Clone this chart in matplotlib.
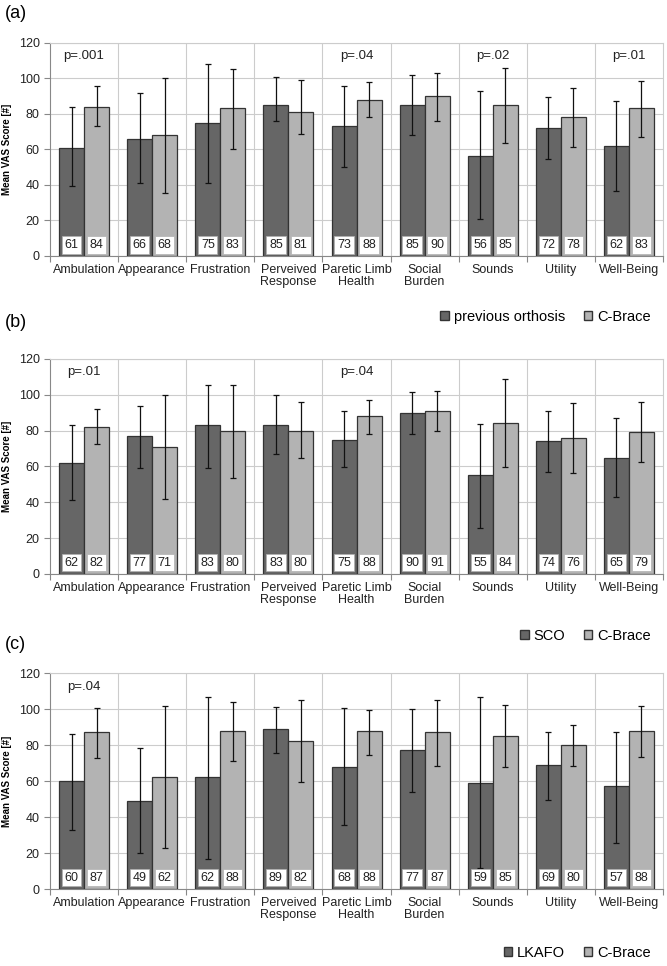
import numpy as np
import matplotlib.pyplot as plt
from matplotlib.patches import Patch

plt.rcParams['font.family'] = ['Liberation Sans', 'DejaVu Sans']

categories = ['Ambulation', 'Appearance', 'Frustration', 'Perveived\nResponse',
              'Paretic Limb\nHealth', 'Social\nBurden', 'Sounds', 'Utility', 'Well-Being']

# panel (a): previous orthosis vs C-Brace
a_prev = [61, 66, 75, 85, 73, 85, 56, 72, 62]
a_cb = [84, 68, 83, 81, 88, 90, 85, 78, 83]
a_prev_lo = [39.4, 40.9, 41.3, 76.1, 49.9, 67.9, 20.6, 54.8, 36.8]
a_prev_hi = [83.6, 91.5, 108.0, 100.5, 95.6, 102.0, 92.6, 89.6, 87.2]
a_cb_lo = [73.1, 35.6, 60.4, 68.6, 78.0, 76.1, 63.4, 61.5, 66.9]
a_cb_hi = [95.6, 100.0, 105.0, 99.0, 98.1, 103.1, 105.9, 94.5, 98.6]
a_p = ['p=.001', '', '', '', 'p=.04', '', 'p=.02', '', 'p=.01']

# panel (b): SCO vs C-Brace
b_prev = [62, 77, 83, 83, 75, 90, 55, 74, 65]
b_cb = [82, 71, 80, 80, 88, 91, 84, 76, 79]
b_prev_lo = [41.4, 59.4, 59.4, 66.9, 59.6, 78.1, 25.5, 57.0, 43.0]
b_prev_hi = [83.1, 93.5, 105.5, 99.9, 90.9, 101.4, 83.8, 90.9, 86.8]
b_cb_lo = [72.3, 41.9, 53.7, 64.5, 78.4, 79.9, 59.6, 56.5, 62.4]
b_cb_hi = [92.0, 99.9, 105.5, 95.8, 96.9, 101.9, 108.8, 95.4, 95.8]
b_p = ['p=.01', '', '', '', 'p=.04', '', '', '', '']

# panel (c): LKAFO vs C-Brace
c_prev = [60, 49, 62, 89, 68, 77, 59, 69, 57]
c_cb = [87, 62, 88, 82, 88, 87, 85, 80, 88]
c_prev_lo = [33.0, 20.0, 16.5, 75.6, 35.4, 53.7, 11.5, 49.6, 25.6]
c_prev_hi = [85.9, 78.1, 106.9, 100.9, 100.4, 100.0, 106.9, 87.4, 87.4]
c_cb_lo = [72.6, 23.0, 71.1, 59.3, 74.6, 68.5, 67.6, 68.5, 73.1]
c_cb_hi = [100.4, 101.5, 103.9, 104.8, 99.3, 104.8, 102.2, 91.3, 101.7]
c_p = ['p=.04', '', '', '', '', '', '', '', '']

panels = [
    ('(a)', 'previous orthosis', a_prev, a_cb, a_prev_lo, a_prev_hi, a_cb_lo, a_cb_hi, a_p),
    ('(b)', 'SCO', b_prev, b_cb, b_prev_lo, b_prev_hi, b_cb_lo, b_cb_hi, b_p),
    ('(c)', 'LKAFO', c_prev, c_cb, c_prev_lo, c_prev_hi, c_cb_lo, c_cb_hi, c_p),
]

dark = '#666666'
light = '#b3b3b3'
edge = '#333333'
grid = '#cccccc'

fig = plt.figure(figsize=(6.67, 9.66), dpi=100)
# axes boxes (left, bottom, width, height) in figure fraction
boxes = [(0.075, 0.735, 0.919, 0.2208),
         (0.075, 0.4058, 0.919, 0.2226),
         (0.075, 0.0797, 0.919, 0.2236)]
legend_y = [0.672, 0.342, 0.0135]
label_y = [0.995, 0.675, 0.342]

w = 0.367
x = np.arange(len(categories)) + 0.5

for k, (tag, name, prev, cb, plo, phi, clo, chi, pv) in enumerate(panels):
    ax = fig.add_axes(boxes[k])
    prev = np.array(prev, dtype=float)
    cb = np.array(cb, dtype=float)
    ax.bar(x - w / 2, prev, w, color=dark, edgecolor=edge, linewidth=0.9, zorder=3)
    ax.bar(x + w / 2, cb, w, color=light, edgecolor=edge, linewidth=0.9, zorder=3)
    ax.errorbar(x - w / 2, prev, yerr=[prev - np.array(plo), np.array(phi) - prev],
                fmt='none', ecolor='#111111', elinewidth=0.9, capsize=2.5, capthick=0.9, zorder=4)
    ax.errorbar(x + w / 2, cb, yerr=[cb - np.array(clo), np.array(chi) - cb],
                fmt='none', ecolor='#111111', elinewidth=0.9, capsize=2.5, capthick=0.9, zorder=4)

    for i in range(len(categories)):
        for xx, v in ((x[i] - w / 2, prev[i]), (x[i] + w / 2, cb[i])):
            ax.text(xx, 6.3, '%d' % v, ha='center', va='center', fontsize=9, color='#222222', zorder=5,
                    bbox=dict(boxstyle='square,pad=0.22', fc='white', ec='#b0b0b0', lw=0.5))
        if pv[i]:
            ax.text(x[i], 112.5, pv[i], ha='center', va='center', fontsize=9.5, color='#222222')

    ax.set_xlim(0, len(categories))
    ax.set_ylim(0, 120)
    ax.set_yticks(np.arange(0, 121, 20))
    ax.yaxis.grid(True, color=grid, linewidth=0.8, zorder=0)
    for b in range(1, len(categories)):
        ax.axvline(b, color=grid, linewidth=0.8, zorder=0)
    ax.set_xticks(np.arange(0, len(categories) + 1))
    ax.set_xticklabels([])
    ax.set_xticks(x, minor=True)
    ax.set_xticklabels(categories, minor=True, fontsize=9, color='#222222', linespacing=1.0)
    ax.tick_params(axis='x', which='major', length=4, color='#888888', direction='out')
    ax.tick_params(axis='x', which='minor', length=0, pad=6)
    ax.tick_params(axis='y', length=4, color='#888888', labelsize=9, labelcolor='#222222')
    for s in ('top', 'right'):
        ax.spines[s].set_color(grid)
    for s in ('left', 'bottom'):
        ax.spines[s].set_color('#888888')
    ax.set_ylabel('Mean VAS Score [#]', fontsize=7, fontweight='bold', labelpad=5)
    fig.text(0.008, label_y[k], tag, fontsize=13, ha='left', va='top')

    handles = [Patch(facecolor=dark, edgecolor=edge, label=name),
               Patch(facecolor=light, edgecolor=edge, label='C-Brace')]
    fig.legend(handles=handles, loc='center right', bbox_to_anchor=(0.984, legend_y[k]), ncol=2,
               frameon=False, fontsize=10.5, handlelength=0.6, handleheight=0.6,
               handletextpad=0.3, columnspacing=1.3, borderaxespad=0)

fig.savefig('out.png', dpi=100, facecolor='white')
